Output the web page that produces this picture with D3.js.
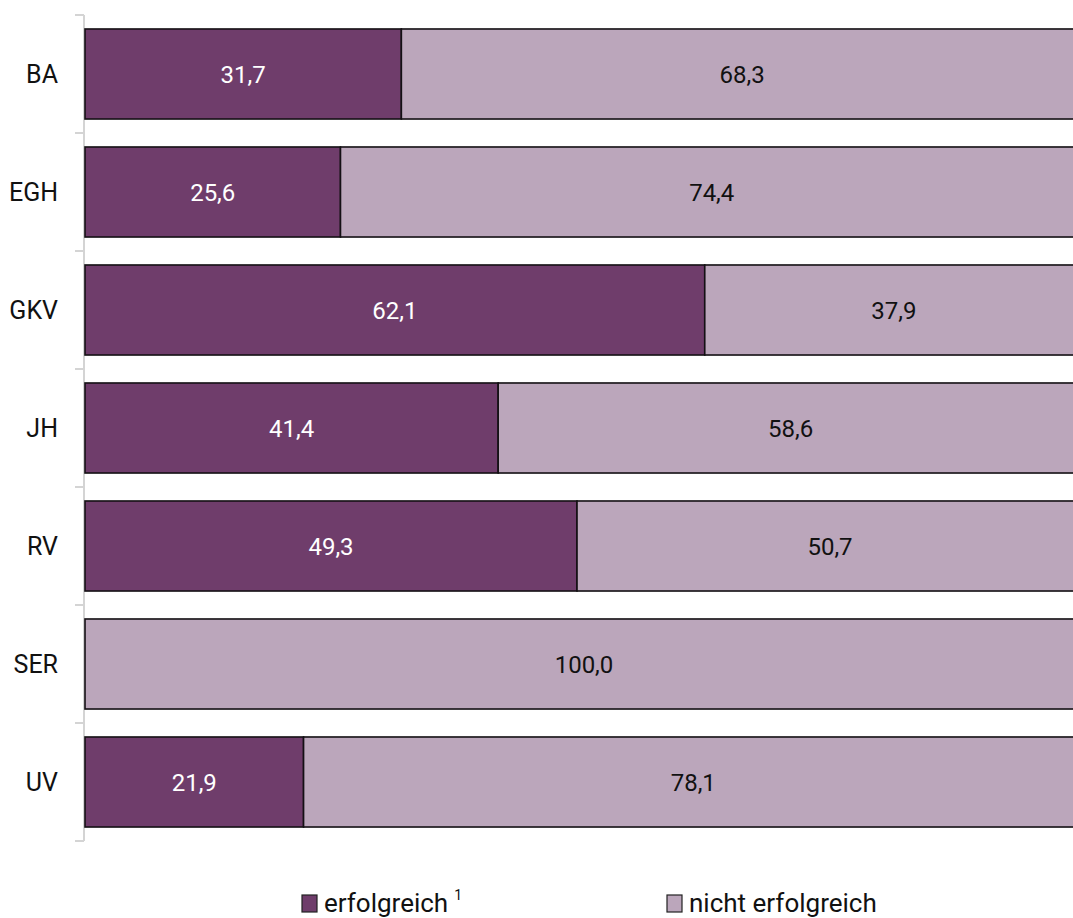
<!DOCTYPE html>
<html><head><meta charset="utf-8">
<script src="https://cdn.jsdelivr.net/npm/d3@7"></script>
<style>body{margin:0;background:#fff}svg{display:block}text{font-family:Roboto,"Noto Sans",sans-serif}</style>
</head><body>
<svg id="c" width="1073" height="918"></svg>
<script>
const categories = ["BA","EGH","GKV","JH","RV","SER","UV"];
const erfolgreich = [31.7,25.6,62.1,41.4,49.3,0,21.9];
const nichtErfolgreich = [68.3,74.4,37.9,58.6,50.7,100.0,78.1];
const seriesNames = ["erfolgreich","nicht erfolgreich"];
const colors = ["#6f3d6b","#bba6bb"];

const svg = d3.select("#c");
const y = d3.scaleBand().domain(categories).range([15,841]).paddingInner(0.237).paddingOuter(0.1185);
const x = d3.scaleLinear().domain([0,100]).range([85,1083]);

const rows = categories.map((c,i)=>({cat:c, segs:[
  {s:0, x0:0, x1:erfolgreich[i], v:erfolgreich[i]},
  {s:1, x0:erfolgreich[i], x1:erfolgreich[i]+nichtErfolgreich[i], v:nichtErfolgreich[i]}
]}));

// axis
const ax = svg.append("g");
ax.append("line").attr("x1",84).attr("x2",84).attr("y1",y.range()[0]).attr("y2",y.range()[1])
  .attr("stroke","#d4d4d4").attr("stroke-width",2);
const bounds = categories.map(c=>y(c)-y.step()*y.paddingInner()/2);
bounds.push(y.range()[1]);
bounds[0]=y.range()[0];
ax.selectAll("line.t").data(bounds).join("line").attr("class","t")
  .attr("x1",75).attr("x2",84).attr("y1",d=>d).attr("y2",d=>d)
  .attr("stroke","#d4d4d4").attr("stroke-width",2);
ax.selectAll("text").data(categories).join("text")
  .attr("x",58).attr("y",d=>y(d)+y.bandwidth()/2).attr("dy","0.36em")
  .attr("text-anchor","end").attr("font-size",25).attr("fill","#111").text(d=>d);

// bars
const g = svg.append("g");
const rowG = g.selectAll("g").data(rows).join("g");
rowG.selectAll("rect").data(d=>d.segs.filter(s=>s.v>0).map(s=>({...s,cat:d.cat}))).join("rect")
  .attr("x",d=>x(d.x0)).attr("width",d=>x(d.x1)-x(d.x0))
  .attr("y",d=>y(d.cat)).attr("height",y.bandwidth())
  .attr("fill",d=>colors[d.s]).attr("stroke","#141014").attr("stroke-width",1.6);
rowG.selectAll("text").data(d=>d.segs.filter(s=>s.v>0).map(s=>({...s,cat:d.cat}))).join("text")
  .attr("x",d=>(x(d.x0)+x(d.x1))/2).attr("y",d=>y(d.cat)+y.bandwidth()/2).attr("dy","0.36em")
  .attr("text-anchor","middle").attr("font-size",24)
  .attr("fill",d=>d.s===0?"#fff":"#111")
  .text(d=>d3.format(".1f")(d.v).replace(".",","));

// legend
const legX = [302,667];
const lg = svg.append("g");
seriesNames.forEach((n,i)=>{
  lg.append("rect").attr("x",legX[i]).attr("y",895).attr("width",15).attr("height",17)
    .attr("fill",colors[i]).attr("stroke","#222").attr("stroke-width",1.2);
  const t = lg.append("text").attr("x",legX[i]+22).attr("y",912).attr("font-size",26).attr("fill","#111").text(n);
  if(i===0){
    t.append("tspan").attr("dx",6).attr("dy",-12).attr("font-size",14).text("1");
  }
});
</script>
</body></html>
